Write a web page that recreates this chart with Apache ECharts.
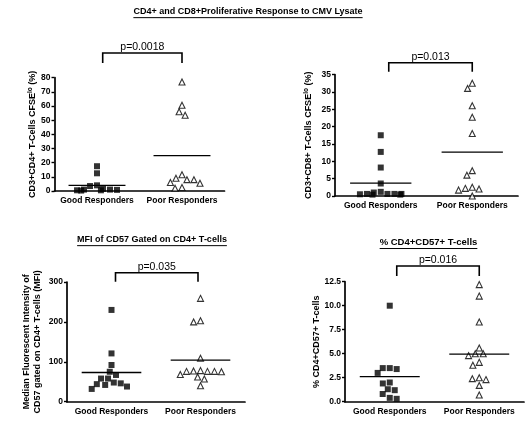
<!DOCTYPE html>
<html><head><meta charset="utf-8">
<script src="https://cdn.jsdelivr.net/npm/echarts@6/dist/echarts.min.js"></script>
<style>html,body{margin:0;padding:0;background:#fff}#c{width:532px;height:421px}</style>
</head><body><div id="c"></div>
<script>
// ---------- data ----------
const categories = ['Good Responders', 'Poor Responders'];

const p1Good = [17.5, 12.5, 4.0, 3.5, 1.5, 1.0, 1.0, 0.8, 0.5, 0.5, 0.3];
const p1Poor = [77, 60.5, 56, 53.5, 11.5, 9, 8, 8, 6, 5.5, 2.5, 2];

const p2Good = [17.5, 12.7, 8.2, 3.6, 1.2, 1.0, 0.6, 0.6, 0.6, 0.6, 0.5, 0.4, 0.4];
const p2Poor = [32.5, 31, 26, 22.7, 18, 7.3, 6, 2.5, 2.2, 2.0, 1.7, 0];

const p3Good = [230, 121, 92, 75, 67, 58, 58, 48, 46, 44, 42, 38, 32];
const p3Poor = [259, 203, 200, 109, 78, 77, 76, 76, 76, 75, 68, 62, 57, 40];

const p4Good = [10, 3.5, 3.5, 3.4, 3.0, 2.0, 1.9, 1.3, 1.2, 0.8, 0.4, 0.3];
const p4Poor = [12.2, 11.0, 8.3, 5.6, 5.0, 5.0, 4.8, 4.1, 3.8, 2.5, 2.4, 2.3, 1.7, 0.7];

const pValues = ['p=0.0018', 'p=0.013', 'p=0.035', 'p=0.016'];
const axisMax = [80, 35, 300, 12.5];
const axisStep = [10, 5, 100, 2.5];
const tickDecimals = [0, 0, 0, 1];

const mainTitle = 'CD4+ and CD8+Proliferative Response to CMV Lysate';
const panelTitles = ['', '', 'MFI of CD57 Gated on CD4+ T-cells', '% CD4+CD57+ T-cells'];
const yNames = [
  '{t|CD3+CD4+ T-Cells CFSE}{s|lo}{t| (%)}',
  '{t|CD3+CD8+ T-Cells CFSE}{s|lo}{t| (%)}',
  '{t|Median Fluorescent Intensity of}\n{t|CD57 gated on CD4+ T-cells (MFI)}',
  '{t|% CD4+CD57+ T-cells}'
];

// ---------- layout ----------
const FONT = '"Liberation Sans", Arial, Helvetica, sans-serif';
const grids = [
  {left: 54.5, top: 77.7, width: 170, height: 113.3},
  {left: 335, top: 74.5, width: 183, height: 121.5},
  {left: 67, top: 282, width: 178, height: 119.7},
  {left: 345, top: 281.7, width: 179, height: 120}
];
const nameGaps = [16, 21, 24, 23];
const bracket = [
  {rise: 24.7, leg: 10, dl: 5.7, dr: 0},
  {rise: 11.8, leg: 9, dl: 8, dr: 0},
  {rise: 9.3, leg: 9, dl: 4, dr: -2.5},
  {rise: 15.7, leg: 10, dl: 7, dr: 0}
];
const groups = [[p1Good, p1Poor], [p2Good, p2Poor], [p3Good, p3Poor], [p4Good, p4Poor]];

const mean = a => a.reduce((s, v) => s + v, 0) / a.length;

const option = {
  animation: false,
  backgroundColor: '#fff',
  grid: [], xAxis: [], yAxis: [], series: [], graphic: []
};

groups.forEach((g, i) => {
  option.grid.push(Object.assign({containLabel: false}, grids[i]));
  option.xAxis.push({
    type: 'category', gridIndex: i, data: categories,
    jitter: 50, jitterOverlap: false, jitterMargin: 1,
    axisLine: {lineStyle: {color: '#000', width: 1.7}},
    axisTick: {alignWithLabel: true, length: 3, lineStyle: {color: '#000', width: 1.4}},
    axisLabel: {color: '#000', fontFamily: FONT, fontWeight: 'bold', fontSize: 8.5, margin: 5, interval: 0},
    splitLine: {show: false}
  });
  option.yAxis.push({
    type: 'value', gridIndex: i, min: 0, max: axisMax[i], interval: axisStep[i],
    name: yNames[i], nameLocation: 'middle', nameGap: nameGaps[i],
    nameTextStyle: {
      rich: {
        t: {fontFamily: FONT, fontWeight: 'bold', fontSize: 9, color: '#000', lineHeight: 11},
        s: {fontFamily: FONT, fontWeight: 'bold', fontSize: 6.5, color: '#000', verticalAlign: 'top', lineHeight: 11}
      }
    },
    axisLine: {show: true, lineStyle: {color: '#000', width: 1.7}},
    axisTick: {show: true, length: 3, lineStyle: {color: '#000', width: 1.4}},
    axisLabel: {color: '#000', fontFamily: FONT, fontWeight: 'bold', fontSize: 8.5, margin: 4,
      formatter: v => v.toFixed(tickDecimals[i])},
    splitLine: {show: false}
  });
  // good responders: filled squares
  option.series.push({
    type: 'scatter', xAxisIndex: i, yAxisIndex: i, clip: false,
    symbol: 'rect', symbolSize: 6,
    itemStyle: {color: '#000'},
    data: g[0].map(v => [0, v])
  });
  // poor responders: open triangles
  option.series.push({
    type: 'scatter', xAxisIndex: i, yAxisIndex: i, clip: false,
    symbol: 'triangle', symbolSize: 6,
    itemStyle: {color: '#fff', borderColor: '#000', borderWidth: 1.1},
    data: g[1].map(v => [1, v])
  });
  // mean lines
  option.series.push({
    type: 'custom', xAxisIndex: i, yAxisIndex: i, clip: false, z: 5,
    data: [[0, mean(g[0])], [1, mean(g[1])]],
    renderItem: (params, api) => {
      const p = api.coord([api.value(0), api.value(1)]);
      const half = api.size([1, 0])[0] * 0.335;
      return {type: 'line', shape: {x1: p[0] - half, y1: p[1], x2: p[0] + half, y2: p[1]},
        style: {stroke: '#000', lineWidth: 1.3}};
    }
  });
  // significance bracket
  const b = bracket[i];
  option.series.push({
    type: 'custom', xAxisIndex: i, yAxisIndex: i, clip: false,
    data: [[0, axisMax[i]]],
    renderItem: (params, api) => {
      const a = api.coord([0, axisMax[i]]);
      const c = api.coord([1, axisMax[i]]);
      const top = a[1] - b.rise;
      const x1 = a[0] + b.dl, x2 = c[0] + b.dr;
      return {type: 'group', children: [
        {type: 'polyline', shape: {points: [[x1, top + b.leg], [x1, top], [x2, top], [x2, top + b.leg]]},
          style: {stroke: '#000', lineWidth: 1.6, fill: null}},
        {type: 'text', style: {text: pValues[i], x: (x1 + x2) / 2, y: top - 0.5, align: 'center', verticalAlign: 'bottom',
          font: '10.5px ' + FONT, fill: '#000'}}
      ]};
    }
  });
});

// titles with underline
const ctx = document.createElement('canvas').getContext('2d');
function addTitle(text, cx, cy, size) {
  const font = 'bold ' + size + 'px ' + FONT;
  ctx.font = font;
  const w = ctx.measureText(text).width;
  option.graphic.push({type: 'text', left: cx - w / 2, top: cy - size / 2 - 1,
    style: {text: text, font: font, fill: '#000'}});
  option.graphic.push({type: 'line', shape: {x1: cx - w / 2, y1: cy + size * 0.55, x2: cx + w / 2, y2: cy + size * 0.55},
    style: {stroke: '#000', lineWidth: 1}});
}
addTitle(mainTitle, 248, 12.7, 9);
addTitle(panelTitles[2], 152, 240.7, 9);
addTitle(panelTitles[3], 428.5, 243.3, 9.5);

const chart = echarts.init(document.getElementById('c'), null, {renderer: 'canvas'});
chart.setOption(option);
</script></body></html>
